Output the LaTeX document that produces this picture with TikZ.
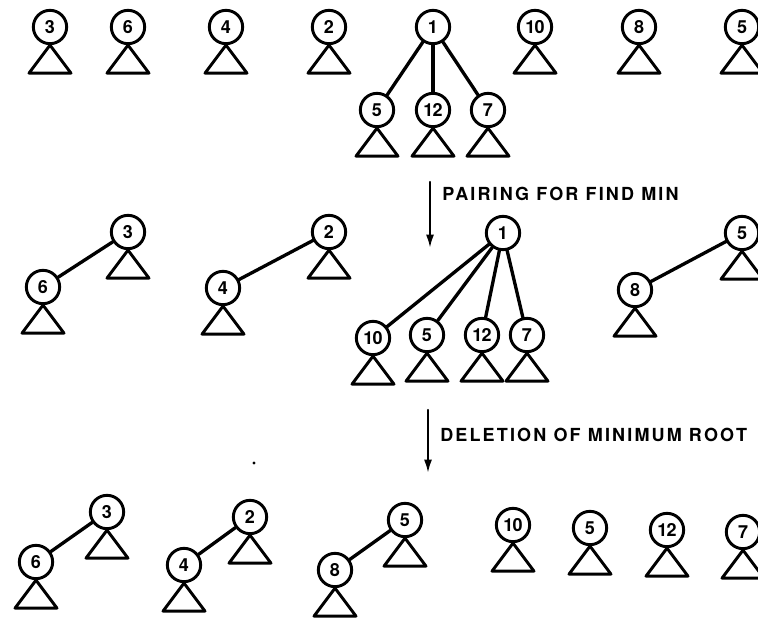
\documentclass[tikz,border=0pt]{standalone}
\usepackage{fontspec}
\setsansfont{TeX Gyre Heros}
\newfontfamily\steplabelfont[LetterSpace=12]{TeX Gyre Heros}
\newfontfamily\keyfont[LetterSpace=-4]{TeX Gyre Heros}
\usetikzlibrary{arrows.meta}
\tikzset{
  >=Latex,
  every picture/.style = {line join=round, line cap=round},
  heap root/.style = {
    circle,
    draw=black,
    fill=white,
    line width=2.2pt,
    minimum size=25pt,
    inner sep=0pt,
    font=\keyfont\bfseries\fontsize{13.5}{14}\selectfont
  },
  subtree/.style = {draw=black, line width=2.2pt},
  link/.style = {draw=black, line width=2.5pt},
  step arrow/.style = {-{Latex[length=10pt,width=6pt]}, draw=black, line width=1.6pt},
  step label/.style = {
    font=\steplabelfont\bfseries\fontsize{13.5}{15}\selectfont,
    anchor=west,
    inner sep=0pt
  },
}
\newcommand{\HeapRoot}[3]{%
  \node[heap root] (#1) at #2 {#3};
  \draw[subtree] (#1.south) -- ++(-21,28) -- ++(42,0) -- cycle;
}

\begin{document}
\begin{tikzpicture}[x=0.75pt,y=-0.75pt]
  \useasboundingbox (0,0) rectangle (758,618);

  % before: forest of roots
  \HeapRoot{t3}{(50,27)}{3}
  \HeapRoot{t6}{(128,27)}{6}
  \HeapRoot{t4}{(226,27)}{4}
  \HeapRoot{t2}{(329,27)}{2}
  \HeapRoot{t10}{(535,27)}{10}
  \HeapRoot{t8}{(639,27)}{8}
  \HeapRoot{t5}{(742,27)}{5}
  \node[heap root] (t1) at (433,27) {1};
  \HeapRoot{t5b}{(377,110)}{5}
  \HeapRoot{t12}{(433,110)}{12}
  \HeapRoot{t7}{(488,110)}{7}
  \draw[link] (t1) -- (t5b);
  \draw[link] (t1) -- (t12);
  \draw[link] (t1) -- (t7);

  \coordinate (s1) at (430,182);
  \coordinate (e1) at (430,248);
  \draw[step arrow] (s1) -- (e1);
  \node[step label] (l1) at (442,194) {PAIRING FOR FIND MIN};

  % after pairing
  \HeapRoot{m3}{(128,232)}{3}
  \HeapRoot{m6}{(43,287)}{6}
  \draw[link] (m3) -- (m6);
  \HeapRoot{m2}{(329,232)}{2}
  \HeapRoot{m4}{(223,288)}{4}
  \draw[link] (m2) -- (m4);
  \node[heap root] (m1) at (503,233) {1};
  \HeapRoot{m10}{(373,338)}{10}
  \HeapRoot{m5b}{(427,335)}{5}
  \HeapRoot{m12}{(482,335)}{12}
  \HeapRoot{m7}{(527,335)}{7}
  \foreach \c in {m10,m5b,m12,m7} {
    \draw[link] (m1) -- (\c);
  }
  \HeapRoot{m5}{(742,233)}{5}
  \HeapRoot{m8}{(635,290)}{8}
  \draw[link] (m5) -- (m8);

  \coordinate (s2) at (428,410);
  \coordinate (e2) at (428,473);
  \draw[step arrow] (s2) -- (e2);
  \node[step label] (l2) at (440,435) {DELETION OF MINIMUM ROOT};
  \fill (254,463) circle (1.6);

  % after deletion
  \HeapRoot{b3}{(107,512)}{3}
  \HeapRoot{b6}{(36,562)}{6}
  \draw[link] (b3) -- (b6);
  \HeapRoot{b2}{(250,517)}{2}
  \HeapRoot{b4}{(184,565)}{4}
  \draw[link] (b2) -- (b4);
  \HeapRoot{b5}{(405,520)}{5}
  \HeapRoot{b8}{(335,570)}{8}
  \draw[link] (b5) -- (b8);
  \HeapRoot{b10}{(513,525)}{10}
  \HeapRoot{b5b}{(590,528)}{5}
  \HeapRoot{b12}{(667,530)}{12}
  \HeapRoot{b7}{(743,532)}{7}
\end{tikzpicture}
\end{document}
